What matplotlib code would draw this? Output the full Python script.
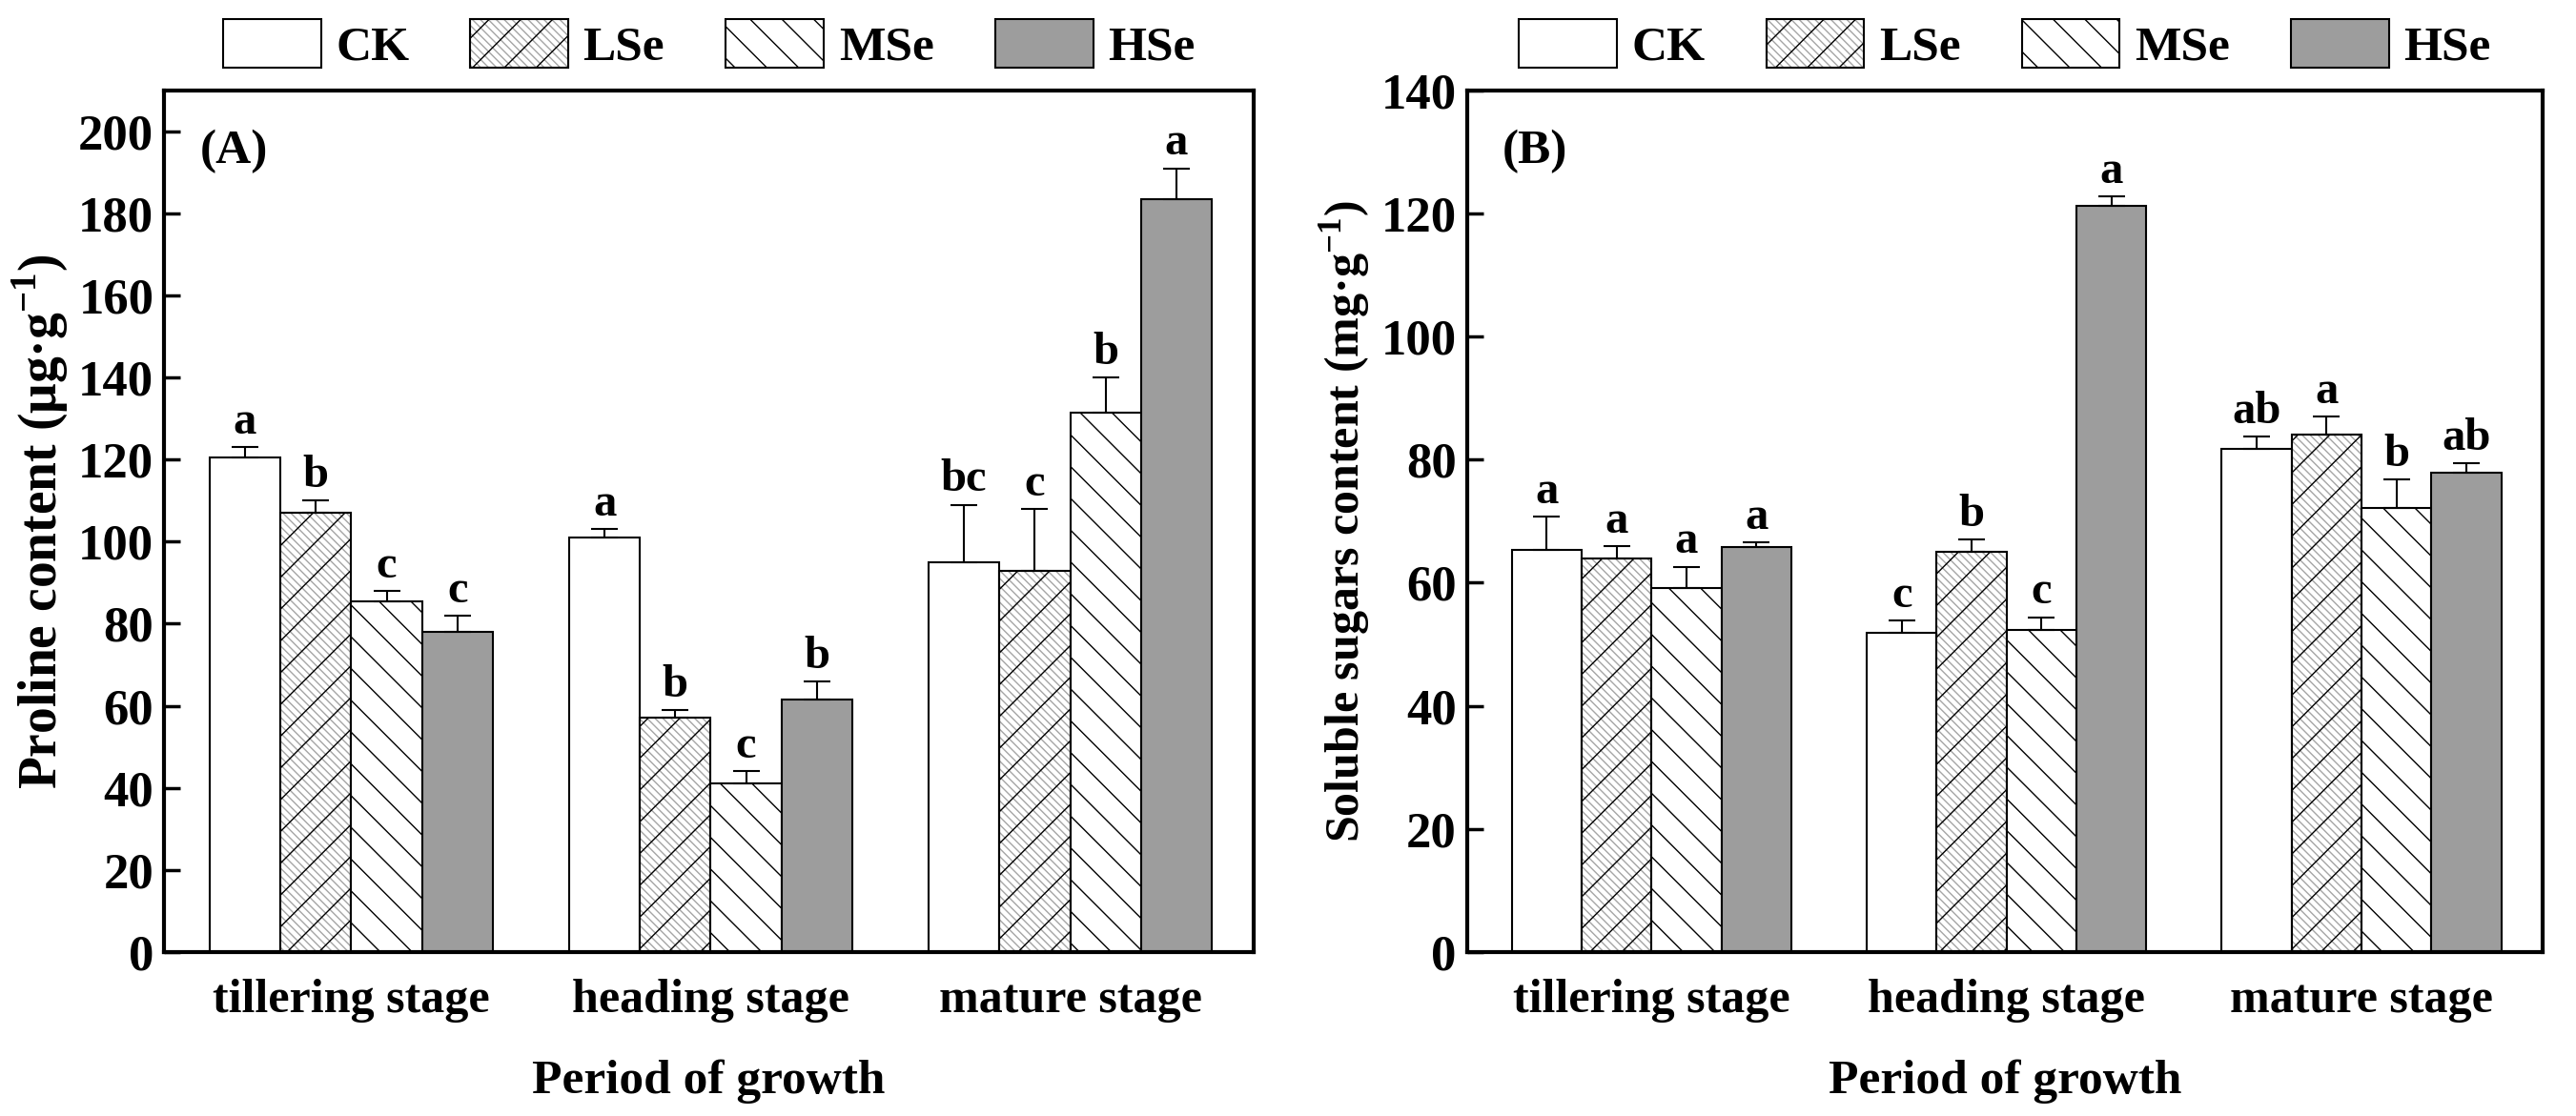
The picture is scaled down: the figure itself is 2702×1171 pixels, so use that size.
import matplotlib
matplotlib.use("Agg")
import matplotlib.pyplot as plt
import numpy as np

plt.rcParams['font.family'] = ['Liberation Serif', 'DejaVu Serif']
plt.rcParams['font.weight'] = 'bold'
plt.rcParams['mathtext.fontset'] = 'custom'
plt.rcParams['mathtext.rm'] = 'Liberation Serif'
plt.rcParams['mathtext.bf'] = 'Liberation Serif:bold'
plt.rcParams['hatch.linewidth'] = 1.0

stages = ["tillering stage", "heading stage", "mature stage"]
treatments = ["CK", "LSe", "MSe", "HSe"]

# panel A: proline content (ug/g), rows = treatments, cols = stages
proline = [[120.5, 101.0, 95.0],
           [107.0, 57.0, 93.0],
           [85.5, 41.0, 131.5],
           [78.0, 61.5, 183.5]]
proline_err = [[2.5, 2.0, 14.0],
               [3.0, 2.0, 15.0],
               [2.5, 3.0, 8.5],
               [4.0, 4.5, 7.5]]
proline_sig = [["a", "a", "bc"],
               ["b", "b", "c"],
               ["c", "c", "b"],
               ["c", "b", "a"]]

# panel B: soluble sugars (mg/g)
sugar = [[65.4, 51.9, 81.8],
         [64.0, 65.0, 84.0],
         [59.2, 52.3, 72.1],
         [65.8, 121.2, 77.8]]
sugar_err = [[5.4, 1.9, 1.9],
             [1.9, 2.0, 3.0],
             [3.4, 2.1, 4.7],
             [0.7, 1.6, 1.6]]
sugar_sig = [["a", "c", "ab"],
             ["a", "b", "a"],
             ["a", "c", "b"],
             ["a", "a", "ab"]]

FS = 37
width = 0.197
x = np.arange(len(stages))


def draw_bars(ax, vals, errs, sigs):
    handles = []
    for i, t in enumerate(treatments):
        pos = x + (i - 1.5) * width
        if t == "CK":
            b = ax.bar(pos, vals[i], width, color='white', edgecolor='black', linewidth=1.5)
            h = b[0]
        elif t == "LSe":
            b0 = ax.bar(pos, vals[i], width, color='white', edgecolor='#a5a5a5',
                        hatch='\\\\\\\\', linewidth=1.5)
            b = ax.bar(pos, vals[i], width, color='none', edgecolor='black',
                       hatch='/', linewidth=1.5)
            h = (b0[0], b[0])
        elif t == "MSe":
            b = ax.bar(pos, vals[i], width, color='white', edgecolor='black',
                       hatch='\\', linewidth=1.5)
            h = b[0]
        else:
            b = ax.bar(pos, vals[i], width, color='#9d9d9d', edgecolor='black', linewidth=1.5)
            h = b[0]
        handles.append(h)
        ax.errorbar(pos, vals[i], yerr=[np.zeros(len(x)), errs[i]], fmt='none',
                    ecolor='black', elinewidth=1.5, capsize=10, capthick=1.5)
        for p, v, e, s in zip(pos, vals[i], errs[i], sigs[i]):
            ax.annotate(s, (p, v + e), xytext=(0, 3), textcoords='offset points',
                        ha='center', va='bottom', fontsize=FS - 2, fontweight='bold')
    return handles


fig = plt.figure(figsize=(27.02, 11.71), dpi=100)
axA = fig.add_axes([0.0638, 0.147, 0.4228, 0.772])
axB = fig.add_axes([0.5695, 0.147, 0.4175, 0.772])

for ax, vals, errs, sigs, ylim, ticks, ylab, ylfs, tag in [
        (axA, proline, proline_err, proline_sig, 210, np.arange(0, 201, 20),
         r'Proline content (μg·g$^{\mathbf{-1}}$)', FS + 3, '(A)'),
        (axB, sugar, sugar_err, sugar_sig, 140, np.arange(0, 141, 20),
         r'Soluble sugars content (mg·g$^{\mathbf{-1}}$)', FS - 1, '(B)')]:
    handles = draw_bars(ax, vals, errs, sigs)
    ax.set_xlim(-0.52, 2.51)
    ax.set_ylim(0, ylim)
    ax.set_yticks(ticks)
    ax.set_xticks(x)
    ax.set_xticklabels(stages)
    ax.tick_params(axis='y', direction='in', length=12, width=2.5, labelsize=FS + 1, pad=8)
    ax.tick_params(axis='x', length=0, labelsize=FS - 1, pad=20)
    for lab in ax.get_xticklabels() + ax.get_yticklabels():
        lab.set_fontweight('bold')
    for sp in ax.spines.values():
        sp.set_linewidth(3)
    ax.set_ylabel(ylab, fontsize=ylfs, fontweight='bold', labelpad=6)
    ax.set_xlabel('Period of growth', fontsize=FS, fontweight='bold', labelpad=28)
    ax.text(0.033, 0.955, tag, transform=ax.transAxes, ha='left', va='top',
            fontsize=FS, fontweight='bold')
    ax.legend(handles, treatments, loc='lower center', bbox_to_anchor=(0.5, 0.995),
              ncol=4, frameon=False, fontsize=FS, handlelength=2.0, handleheight=1.15,
              columnspacing=1.25, handletextpad=0.3, borderaxespad=0.1)

fig.savefig('out.png', dpi=100)
